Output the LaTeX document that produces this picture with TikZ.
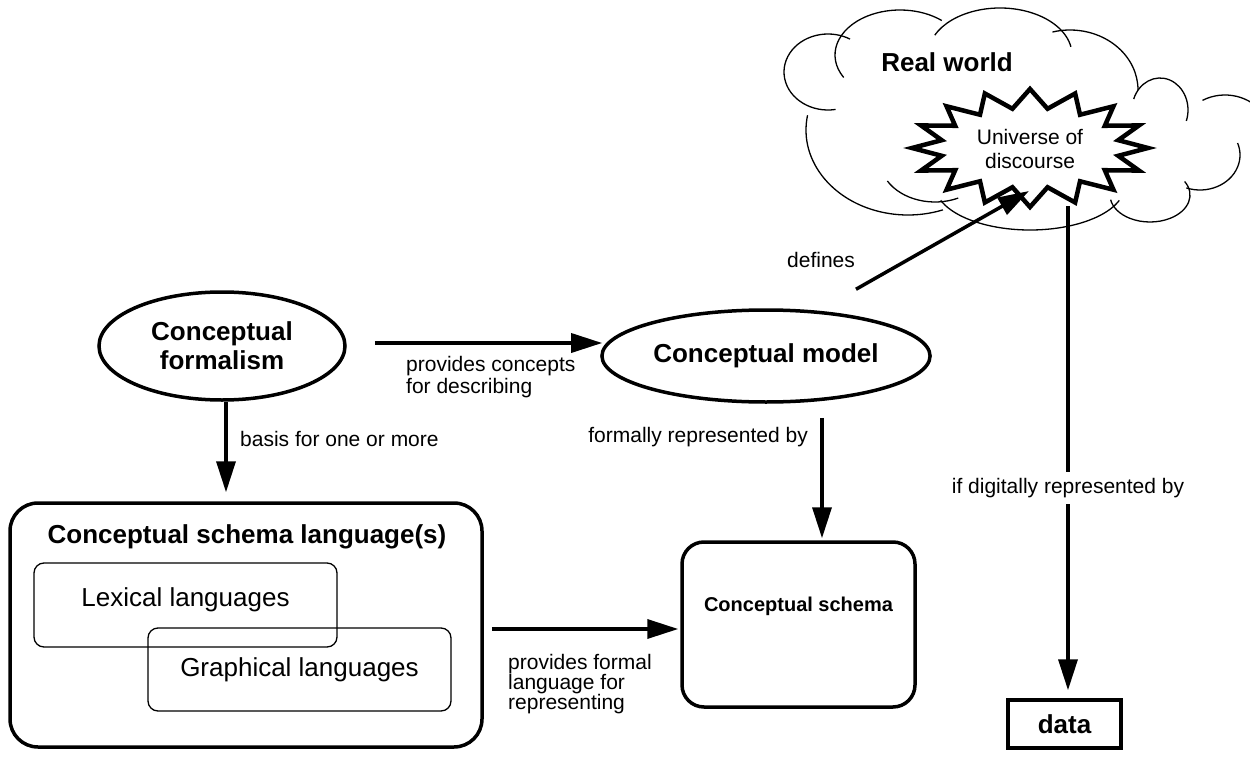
\documentclass[tikz,border=0pt]{standalone}
\usepackage{fontspec}
\setmainfont{Liberation Sans}
\usetikzlibrary{shapes.geometric,arrows.meta}

% one puff of the cloud outline: centre x, centre y, x radius, y radius, start angle, end angle
\newcommand\cloudpuff[6]{%
  \draw[cloudline] ({#1+#3*cos(#5)},{#2+#4*sin(#5)})
    arc[start angle=#5,end angle=#6,x radius=#3,y radius=#4];}

\begin{document}
\begin{tikzpicture}[x=1pt,y=-1pt,
  lbl/.style={font=\fontsize{21}{22}\selectfont, inner sep=0pt},
  boldtxt/.style={font=\fontsize{26}{29}\selectfont\bfseries},
  heavy/.style={draw, line width=3.5pt},
  thinbox/.style={draw, line width=1.3pt, rounded corners=10pt, font=\fontsize{26}{29}\selectfont},
  arr/.style={line width=3.5pt, -{Triangle[length=31pt,width=19pt]}},
  cloudline/.style={line width=1.3pt},
]
\useasboundingbox (0,0) rectangle (1250,757);

% the real world as a cloud
\cloudpuff{828}{72}{44}{38}{80}{300}
\cloudpuff{900}{55}{65}{45}{150}{310}
\cloudpuff{1000}{55}{72}{47}{205}{350}
\cloudpuff{1070}{90}{68}{60}{255}{360}
\cloudpuff{1160}{110}{28}{32}{200}{380}
\cloudpuff{1225}{135}{45}{40}{240}{400}
\cloudpuff{1200}{155}{40}{35}{110}{-20}
\cloudpuff{1150}{195}{40}{27}{-30}{170}
\cloudpuff{1030}{185}{95}{45}{20}{160}
\cloudpuff{908}{130}{102}{85}{190}{70}
\cloudpuff{935}{160}{55}{42}{150}{65}
\node[boldtxt] (rw) at (947,62) {Real world};

% the universe of discourse as a starburst
\draw[line width=4.5pt, fill=white, line join=miter]
  plot[samples at={0,...,31}, variable=\k]
  ({1030+ifthenelse(mod(\k,2)==0,118,90)*cos(90+11.25*\k)},
   {148-ifthenelse(mod(\k,2)==0,59,40)*sin(90+11.25*\k)}) -- cycle;
\node[font=\fontsize{21}{24}\selectfont, align=center] (uod) at (1030,149) {Universe of\\discourse};

% main concepts
\node[heavy, ellipse, minimum width=246pt, minimum height=108pt, boldtxt, align=center] (form) at (222,346) {Conceptual\\formalism};
\node[heavy, ellipse, minimum width=272pt, minimum height=92pt, boldtxt] (model) at (766,356) {Conceptual model};

\node[heavy, rounded corners=28pt, minimum width=472pt, minimum height=244pt] (csl) at (246,625) {};
\node[boldtxt] (cslt) at (247,537) {Conceptual schema language(s)};
\node[thinbox, minimum width=303pt, minimum height=84pt, text depth=15.5pt] (lex) at (185.5,605) {Lexical languages};
\node[thinbox, minimum width=303pt, minimum height=83pt] (gra) at (299.5,669.5) {Graphical languages};

\node[heavy, rounded corners=22pt, minimum width=233pt, minimum height=165pt,
  font=\fontsize{20}{24}\selectfont\bfseries, text depth=41pt] (cs) at (798.5,624.5) {Conceptual schema};
\node[heavy, minimum width=113pt, minimum height=48pt, boldtxt] (data) at (1064.5,724) {data};

% connectors
\draw[arr] ([shift={(28,-3)}]form.east) -- ([shift={(2,-13)}]model.west);
\draw[arr] ([xshift=4pt]form.south) -- ([xshift=4pt, yshift=9pt]form.south |- csl.north);
\draw[arr] ([shift={(56,14)}]model.south) -- ([shift={(23.5,-2)}]cs.north);
\draw[arr] ([shift={(90,-19)}]model.north) -- ([shift={(-1,42)}]uod.center);
\draw[arr] ([shift={(8,4)}]csl.east) -- ([shift={(-2,4.5)}]cs.west);
\draw[arr] ([shift={(38,57)}]uod.center) -- ([shift={(3.5,-8)}]data.north)
  node[lbl, fill=white, inner ysep=6pt, inner xsep=2pt, pos=0.582] (dlbl) {if digitally represented by};

% connector labels
\node[lbl, align=left, anchor=west] (l1) at (406,377) {provides concepts\\for describing};
\node[lbl, anchor=west] (l2) at (240,439) {basis for one or more};
\node[lbl, anchor=east] (l3) at (808,437) {formally represented by};
\node[lbl] (l4) at (821,260) {defines};
\node[lbl, font=\fontsize{21}{20}\selectfont, align=left, anchor=west] (l5) at (508,684) {provides formal\\language for\\representing};
\end{tikzpicture}
\end{document}
